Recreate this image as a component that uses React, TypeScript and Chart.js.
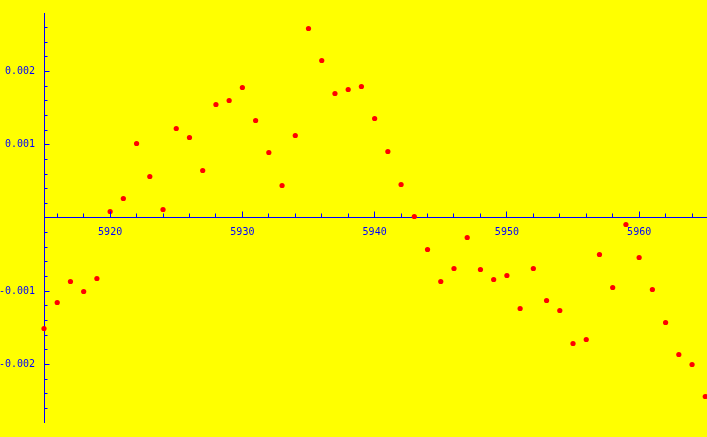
import React, { useEffect, useRef } from "react";
import { Chart, registerables } from "chart.js";

Chart.register(...registerables);

const xValues = [
  5915, 5916, 5917, 5918, 5919, 5920, 5921, 5922, 5923, 5924, 5925, 5926, 5927,
  5928, 5929, 5930, 5931, 5932, 5933, 5934, 5935, 5936, 5937, 5938, 5939, 5940,
  5941, 5942, 5943, 5944, 5945, 5946, 5947, 5948, 5949, 5950, 5951, 5952, 5953,
  5954, 5955, 5956, 5957, 5958, 5959, 5960, 5961, 5962, 5963, 5964, 5965,
];

const yValues = [
  -0.0015085, -0.0011536, -0.0008669, -0.0010034, -0.0008259, 0.0000887,
  0.0002662, 0.0010171, 0.0005666, 0.000116, 0.0012218, 0.001099, 0.0006485,
  0.0015495, 0.0016041, 0.0017816, 0.0013311, 0.0008942, 0.0004437, 0.0011263,
  0.002587, 0.0021502, 0.0016997, 0.0017543, 0.0017952, 0.0013584, 0.0009078,
  0.0004573, 0.0000205, -0.00043, -0.0008669, -0.0006894, -0.0002662,
  -0.0007031, -0.0008396, -0.000785, -0.0012355, -0.0006894, -0.0011263,
  -0.0012628, -0.0017133, -0.0016587, -0.0004983, -0.0009488, -0.0000887,
  -0.0005392, -0.0009761, -0.0014266, -0.0018635, -0.002, -0.0024369,
];

const xTickLabels = ["5920", "5930", "5940", "5950", "5960"];
const yTickLabels = ["-0.002", "-0.001", "0.001", "0.002"];

const BLUE = "#0000ff";
const BG = "#ffff00";
const FONT = { family: "'DejaVu Sans Mono', monospace", size: 10 };

const labelFor = (list: string[], v: number) => {
  const hit = list.find((s) => Math.abs(Number(s) - v) < 1e-9);
  return hit === undefined ? "" : hit;
};

const minorTicks = {
  id: "minorTicks",
  afterDraw(chart: any) {
    const { ctx, scales } = chart;
    const xs = scales.x;
    const ys = scales.y;
    const y0 = Math.floor(ys.getPixelForValue(0)) + 0.5;
    const x0 = Math.floor(xs.getPixelForValue(5915)) + 0.5;
    ctx.save();
    ctx.strokeStyle = BLUE;
    ctx.lineWidth = 1;
    ctx.beginPath();
    for (let v = 5916; v <= 5964; v += 2) {
      const px = Math.floor(xs.getPixelForValue(v)) + 0.5;
      const len = v % 10 === 0 ? 6 : 4;
      ctx.moveTo(px, y0);
      ctx.lineTo(px, y0 - len);
    }
    for (let k = -13; k <= 13; k++) {
      if (k === 0) continue;
      const py = Math.floor(ys.getPixelForValue(k * 0.0002)) + 0.5;
      const len = k % 5 === 0 ? 5 : 3;
      ctx.moveTo(x0, py);
      ctx.lineTo(x0 + len, py);
    }
    ctx.stroke();
    ctx.restore();
  },
};

export default function App() {
  const ref = useRef<HTMLCanvasElement>(null);

  useEffect(() => {
    document.body.style.margin = "0";
    document.body.style.background = BG;
    const canvas = ref.current;
    if (!canvas) return;
    const chart = new Chart(canvas, {
      type: "scatter",
      data: {
        datasets: [
          {
            data: xValues.map((x, i) => ({ x, y: yValues[i] })),
            backgroundColor: "#ff0000",
            borderWidth: 0,
            pointRadius: 2.6,
            pointHoverRadius: 2.6,
            clip: false as any,
          },
        ],
      },
      plugins: [minorTicks],
      options: {
        animation: false,
        responsive: false,
        maintainAspectRatio: false,
        devicePixelRatio: 1,
        layout: {
          autoPadding: false,
          padding: { top: 13, bottom: 15, left: 0, right: 0 },
        },
        plugins: { legend: { display: false }, tooltip: { enabled: false } },
        scales: {
          x: {
            type: "linear",
            position: { y: 0 } as any,
            min: 5915,
            max: 5965.13,
            afterFit: (s: any) => {
              s.paddingLeft = 0;
              s.paddingRight = 0;
              s.paddingTop = 0;
              s.paddingBottom = 0;
            },
            grid: { display: false, drawTicks: false },
            border: { display: true, color: BLUE, width: 1 },
            ticks: {
              stepSize: 10,
              includeBounds: false,
              color: BLUE,
              font: FONT,
              padding: 8,
              maxRotation: 0,
              autoSkip: false,
              callback: (v: any) => labelFor(xTickLabels, Number(v)),
            },
          },
          y: {
            type: "linear",
            position: "left",
            min: -0.002785,
            max: 0.0027986,
            afterFit: (s: any) => {
              s.width = 44;
              s.paddingTop = 0;
              s.paddingBottom = 0;
            },
            grid: { display: false, drawTicks: false },
            border: { display: true, color: BLUE, width: 1 },
            ticks: {
              stepSize: 0.001,
              includeBounds: false,
              color: BLUE,
              font: FONT,
              padding: 9,
              autoSkip: false,
              callback: (v: any) => labelFor(yTickLabels, Number(v)),
            },
          },
        },
      },
    });
    return () => chart.destroy();
  }, []);

  return (
    <div
      style={{
        position: "fixed",
        left: 0,
        top: 0,
        width: 707,
        height: 437,
        background: BG,
      }}
    >
      <canvas ref={ref} width={707} height={437} style={{ display: "block" }} />
    </div>
  );
}
